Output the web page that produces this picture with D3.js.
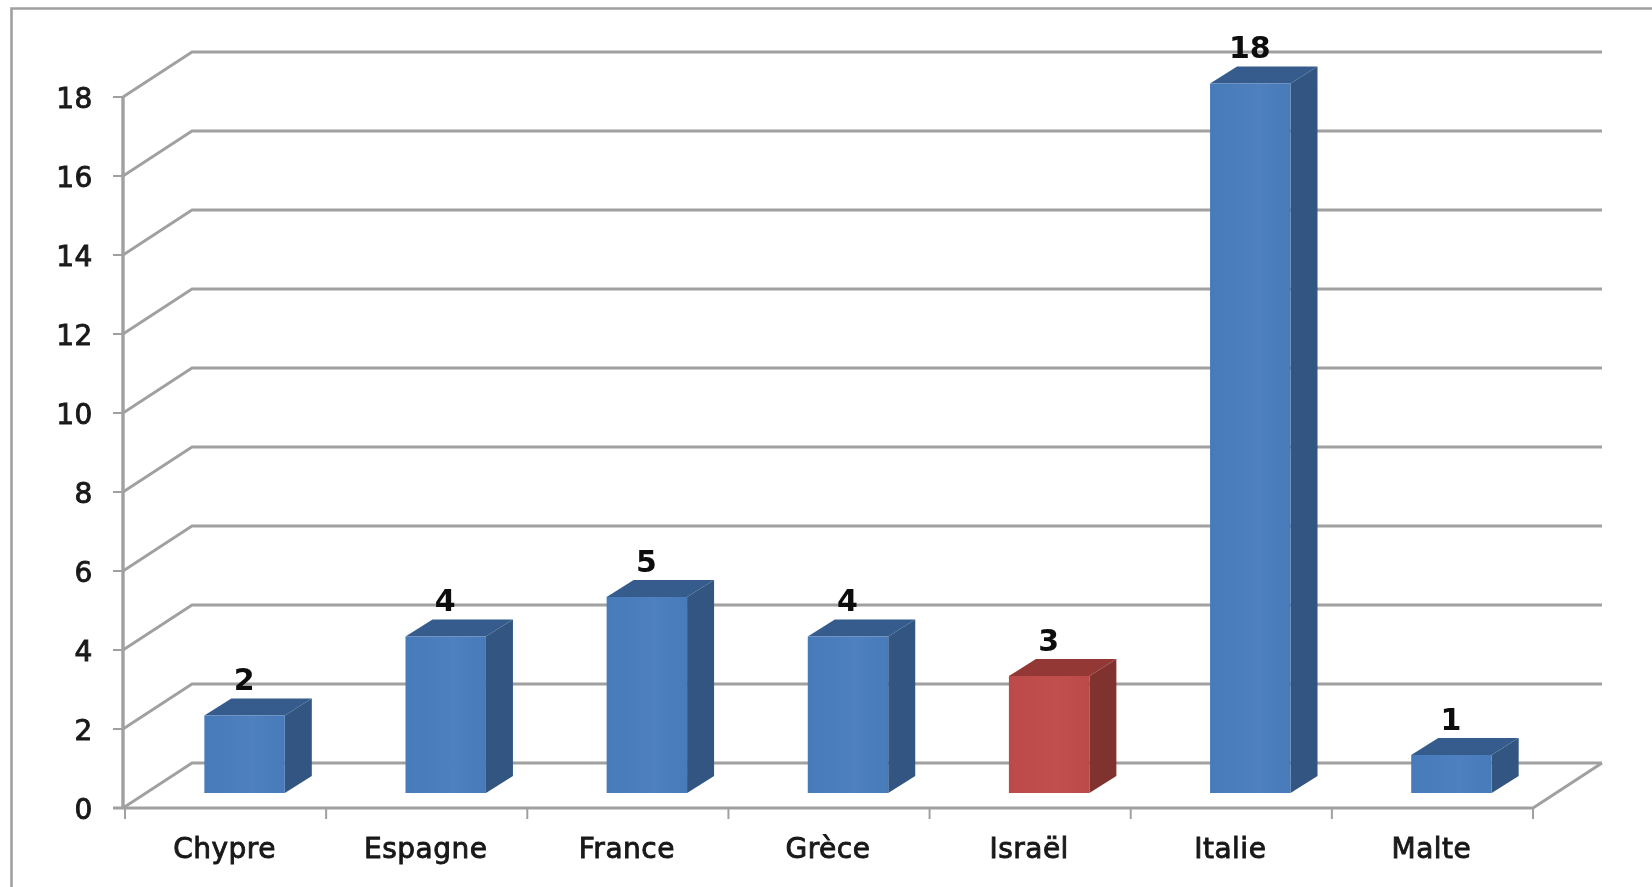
<!DOCTYPE html>
<html><head><meta charset="utf-8">
<script src="https://cdn.jsdelivr.net/npm/d3@7"></script>
<style>html,body{margin:0;padding:0;background:#fff}svg{display:block}text{font-family:"DejaVu Sans",sans-serif}</style>
</head><body><svg id="c" width="1652" height="887"></svg>
<script>
const categories = ["Chypre","Espagne","France","Grèce","Israël","Italie","Malte"];
const values = [2,4,5,4,3,18,1];
const highlighted = ["Israël"];
const yTicks = [0,2,4,6,8,10,12,14,16,18];

const svg = d3.select("#c");
const x = d3.scaleBand().domain(categories).range([125,1533]);
const y = d3.scaleLinear().domain([0,18]).range([808,97]);
const wallDx = 69, wallDy = -45, wallRight = 1602;
const barDx = 19, barDy = -15, depthX = 27, depthY = -17, barW = 0.4;
const gridC = "#a0a0a0";

const defs = svg.append("defs");
function grad(id, a, b){
  const g = defs.append("linearGradient").attr("id",id);
  g.append("stop").attr("offset","0").attr("stop-color",a);
  g.append("stop").attr("offset","0.6").attr("stop-color",b);
  g.append("stop").attr("offset","1").attr("stop-color",a);
}
grad("blue","#477ab9","#4f80bf");
grad("red","#bb4a47","#c1504d");
defs.append("filter").attr("id","soft").append("feGaussianBlur").attr("stdDeviation",0.7);

const root = svg.append("g").attr("filter","url(#soft)");

root.append("path").attr("d",d3.line()([[1652,8.5],[11.5,8.5],[11.5,887]]))
  .attr("fill","none").attr("stroke","#a0a0a0").attr("stroke-width",2.6);

root.append("g").selectAll("path").data(yTicks).join("path")
  .attr("d",v=>d3.line()([[123,y(v)],[123+wallDx,y(v)+wallDy],[wallRight,y(v)+wallDy]]))
  .attr("fill","none").attr("stroke",gridC).attr("stroke-width",2.8);
root.append("path").attr("d",d3.line()([[113,y(0)],[x.range()[1],y(0)],[wallRight,y(0)+wallDy]]))
  .attr("fill","none").attr("stroke",gridC).attr("stroke-width",3);
root.append("line").attr("x1",123).attr("x2",123).attr("y1",y(18)).attr("y2",y(0)+1)
  .attr("stroke",gridC).attr("stroke-width",3.4);
root.append("g").selectAll("line").data(yTicks).join("line")
  .attr("x1",113).attr("x2",123).attr("y1",y).attr("y2",y)
  .attr("stroke",gridC).attr("stroke-width",2);
root.append("g").selectAll("line").data([...categories.map(c=>x(c)),x.range()[1]]).join("line")
  .attr("x1",d=>d).attr("x2",d=>d).attr("y1",y(0)).attr("y2",y(0)+11)
  .attr("stroke",gridC).attr("stroke-width",2);

const bars = root.append("g").selectAll("g").data(categories.map((c,i)=>({c,v:values[i]}))).join("g");
const L = d=>x(d.c)+x.bandwidth()/2+barDx-x.bandwidth()*barW/2;
const W = x.bandwidth()*barW;
const T = d=>y(d.v)+barDy+1.5, B = ()=>y(0)+barDy;
const isHi = d=>highlighted.includes(d.c);
bars.append("path").attr("fill",d=>isHi(d)?"#7f302e":"#315581")
  .attr("d",d=>d3.line()([[L(d)+W,T(d)],[L(d)+W+depthX,T(d)+depthY],[L(d)+W+depthX,B()+depthY],[L(d)+W,B()]])+"Z");
bars.append("path").attr("fill",d=>isHi(d)?"#933836":"#355c8d")
  .attr("d",d=>d3.line()([[L(d),T(d)],[L(d)+depthX,T(d)+depthY],[L(d)+W+depthX,T(d)+depthY],[L(d)+W,T(d)]])+"Z");
bars.append("rect").attr("x",L).attr("y",T).attr("width",W).attr("height",d=>B()-T(d))
  .attr("fill",d=>isHi(d)?"url(#red)":"url(#blue)");
bars.append("text").attr("x",d=>L(d)+W/2-0.5).attr("y",d=>T(d)+depthY-19).attr("dy","0.36em")
  .attr("text-anchor","middle").attr("font-size",30).attr("font-weight",700).attr("fill","#0a0a0a").text(d=>d.v);

root.append("g").selectAll("text").data(yTicks).join("text")
  .attr("x",93).attr("y",d=>y(d)+1).attr("dy","0.36em").attr("text-anchor","end")
  .attr("font-size",28).attr("letter-spacing",0.6).attr("fill","#1a1a1a").attr("stroke","#1a1a1a").attr("stroke-width",0.9).text(d=>d);
root.append("g").selectAll("text").data(categories).join("text")
  .attr("x",c=>x(c)+x.bandwidth()/2-1).attr("y",848).attr("dy","0.36em").attr("text-anchor","middle")
  .attr("font-size",28).attr("letter-spacing",0.5).attr("fill","#1a1a1a").attr("stroke","#1a1a1a").attr("stroke-width",0.9).text(c=>c);
</script></body></html>
